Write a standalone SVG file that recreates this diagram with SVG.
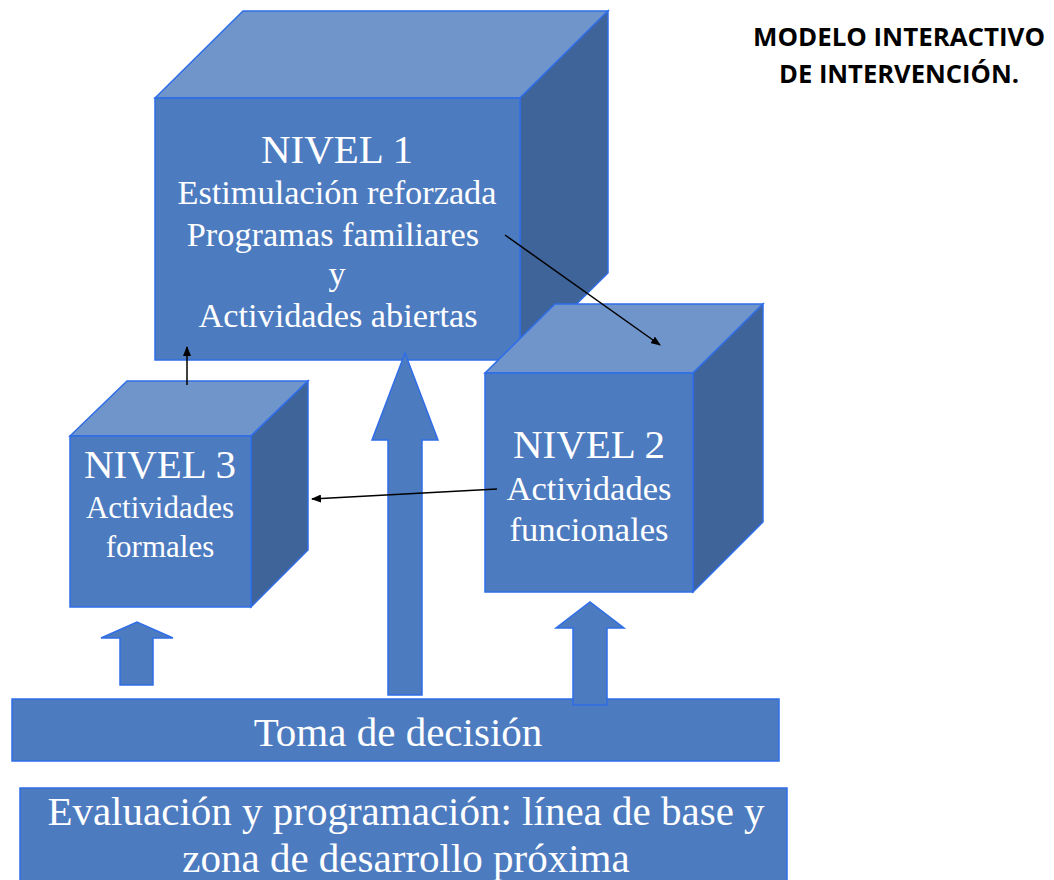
<svg xmlns="http://www.w3.org/2000/svg" width="1054" height="880" viewBox="0 0 1054 880">
<style>
.front{fill:#4D7BBF;stroke:#2F6EE8;stroke-width:1.5}
.top{fill:#7095CA;stroke:#2F6EE8;stroke-width:1.5}
.side{fill:#3F6499;stroke:#2F6EE8;stroke-width:1.5}
.blk{fill:#4D7BBF;stroke:#2F6EE8;stroke-width:1.5}
.t{font-family:"Liberation Serif","Times New Roman",serif;fill:#fff;text-anchor:middle}
.title{font-family:"Open Sans","Liberation Sans",sans-serif;font-weight:bold;font-size:25px;fill:#000;text-anchor:middle}
.conn{stroke:#000;stroke-width:1.5;fill:none;marker-end:url(#ah)}
</style>
<defs>
<marker id="ah" markerWidth="10" markerHeight="8" refX="9" refY="4" orient="auto" markerUnits="userSpaceOnUse">
<path d="M0,0 L10,4 L0,8 Z" fill="#000"/>
</marker>
</defs>
<rect width="1054" height="880" fill="#fff"/>
<g id="title">
<text class="title" x="899" y="46" textLength="292" lengthAdjust="spacingAndGlyphs">MODELO INTERACTIVO</text>
<text class="title" x="899" y="83" textLength="240" lengthAdjust="spacingAndGlyphs">DE INTERVENCIÓN.</text>
</g>
<g id="nivel1">
<polygon class="top" points="155,98 243,11 608,11 520,98"/>
<polygon class="side" points="520,98 608,11 608,273 520,360"/>
<rect class="front" x="155" y="98" width="365" height="262"/>
<text class="t" x="337" y="163" font-size="41">NIVEL 1</text>
<text class="t" x="337" y="204" font-size="34.3">Estimulación reforzada</text>
<text class="t" x="333" y="246" font-size="34.3">Programas familiares</text>
<text class="t" x="337" y="285" font-size="34.3">y</text>
<text class="t" x="338" y="327" font-size="34.3">Actividades abiertas</text>
</g>
<g id="nivel3">
<polygon class="top" points="70,436 127,381 308,381 251,436"/>
<polygon class="side" points="251,436 308,381 308,550 251,607"/>
<rect class="front" x="70" y="436" width="181" height="171"/>
<text class="t" x="160" y="478" font-size="41">NIVEL 3</text>
<text class="t" x="160" y="518" font-size="31">Actividades</text>
<text class="t" x="160" y="557" font-size="31">formales</text>
</g>
<g id="nivel2">
<polygon class="top" points="485,373 555,304 763,304 693,373"/>
<polygon class="side" points="693,373 763,304 763,522 693,592"/>
<rect class="front" x="485" y="373" width="208" height="219"/>
<text class="t" x="589" y="458" font-size="41">NIVEL 2</text>
<text class="t" x="589" y="500" font-size="34.5">Actividades</text>
<text class="t" x="589" y="541" font-size="34.5">funcionales</text>
</g>
<g id="toma">
<rect class="blk" x="12" y="699" width="767" height="62"/>
<text class="t" x="398" y="746" font-size="41">Toma de decisión</text>
</g>
<g id="evaluacion">
<rect class="blk" x="20" y="788" width="767" height="100"/>
<text class="t" x="406" y="825" font-size="41">Evaluación y programación: línea de base y</text>
<text class="t" x="406" y="872" font-size="41">zona de desarrollo próxima</text>
</g>
<g id="arrows">
<polygon class="blk" points="388,695 388,440 372,440 405,353 438,440 422,440 422,695"/>
<polygon class="blk" points="120,685 120,638 101,638 137,622 173,638 153,638 153,685"/>
<polygon class="blk" points="573,705 573,628 556,628 590,602 624,628 607,628 607,705"/>
</g>
<g id="connectors">
<line class="conn" x1="505" y1="235" x2="660" y2="345"/>
<line class="conn" x1="497" y1="489" x2="312" y2="499"/>
<line class="conn" x1="187" y1="385" x2="187" y2="347"/>
</g>
</svg>
